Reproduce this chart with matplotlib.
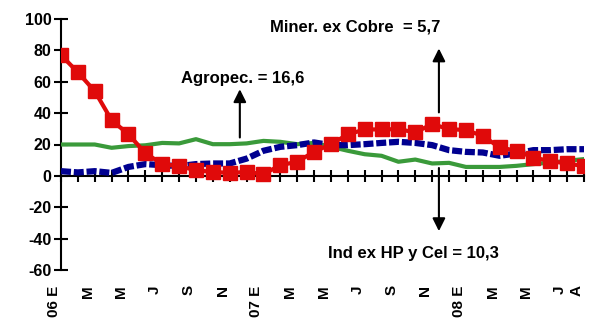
import numpy as np
import matplotlib
matplotlib.use("Agg")
import matplotlib.pyplot as plt

plt.rcParams['font.family'] = ['Liberation Sans', 'DejaVu Sans']

# monthly, Jan 2006 - Aug 2008
mineria = [77, 66, 54, 35.5, 26.5, 14.5, 7.5, 6.2, 3.6, 2.5, 1.9, 2.5, 1.1, 6.8, 9,
           15.3, 20.2, 26.4, 29.6, 29.6, 29.8, 27.7, 33, 29.8, 29.2, 25.5, 18.1, 16,
           11.7, 9.4, 7.9, 6.2]
agropec = [3, 2.2, 3, 1.9, 5.7, 7.5, 6.8, 6.2, 7.5, 7.9, 7.9, 11, 16, 18.5, 19.6,
           21.3, 19.6, 19.6, 20.2, 21, 21.7, 21, 19.6, 16.4, 15.3, 14.9, 12.8, 14.3,
           16.4, 16.4, 17, 17]
industria = [20, 20, 20, 17.9, 19, 19.5, 21, 20.7, 23.4, 20.2, 20.2, 20.7, 22.3, 21.7,
             20.2, 21, 18.5, 16, 13.8, 12.8, 9, 10.4, 7.9, 8.3, 5.7, 5.7, 5.7, 6.4,
             7.5, 8.5, 9.6, 10.7]
meses = ['06 E', 'M', 'M', 'J', 'S', 'N', '07 E', 'M', 'M', 'J', 'S', 'N',
         '08 E', 'M', 'M', 'J', 'A']
y_ticks = [-60, -40, -20, 0, 20, 40, 60, 80, 100]

x = np.arange(len(mineria))
label_pos = list(range(0, 31, 2)) + [31]

fig = plt.figure(figsize=(5.9, 3.27), dpi=100)
ax = fig.add_axes([61/590, 1-270/327, (584-61)/590, (270-19)/327])

ax.plot(x, industria, color='#3A9A3A', lw=3, zorder=3)
ax.plot(x, agropec, color='#000090', lw=4.5, ls=(0, (1.6, 0.45)), zorder=4)
ax.plot(x, mineria, color='#E00A0A', lw=3, marker='s', ms=9.5,
        mec='#E00A0A', zorder=5)

ax.set_xlim(0, 31)
ax.set_ylim(-60, 100)
ax.set_yticks(y_ticks)
ax.set_yticklabels([str(v) for v in y_ticks], fontsize=11.5, fontweight='bold')
ax.spines['top'].set_visible(False)
ax.spines['right'].set_visible(False)
ax.spines['bottom'].set_position(('data', 0))
ax.spines['left'].set_linewidth(1.5)
ax.spines['bottom'].set_linewidth(1.5)
ax.tick_params(axis='y', direction='inout', length=10, width=1.5, pad=2)
ax.set_xticks(x)
ax.tick_params(axis='x', direction='inout', length=8, width=1.5, labelbottom=False)

sec = ax.secondary_xaxis('bottom')
sec.set_xticks(label_pos)
sec.set_xticklabels(meses, rotation=90, fontsize=11, fontweight='bold', va='top', ha='right')
sec.tick_params(length=0, pad=11)
sec.spines['bottom'].set_visible(False)

arrow = dict(arrowstyle='-|>', color='black', lw=1.5, mutation_scale=19)
ax.annotate('', xy=(10.6, 57), xytext=(10.6, 22.7), arrowprops=arrow)
ax.text(7.1, 62, 'Agropec. = 16,6', fontsize=12, fontweight='bold', va='center', ha='left')
ax.annotate('', xy=(22.4, 83), xytext=(22.4, 38.7), arrowprops=arrow)
ax.text(12.4, 95, 'Miner. ex Cobre  = 5,7', fontsize=12, fontweight='bold', va='center', ha='left')
ax.annotate('', xy=(22.4, -37), xytext=(22.4, 6.8), arrowprops=arrow)
ax.text(15.8, -49.5, 'Ind ex HP y Cel = 10,3', fontsize=12, fontweight='bold', va='center', ha='left')

fig.savefig('out.png', dpi=100)
